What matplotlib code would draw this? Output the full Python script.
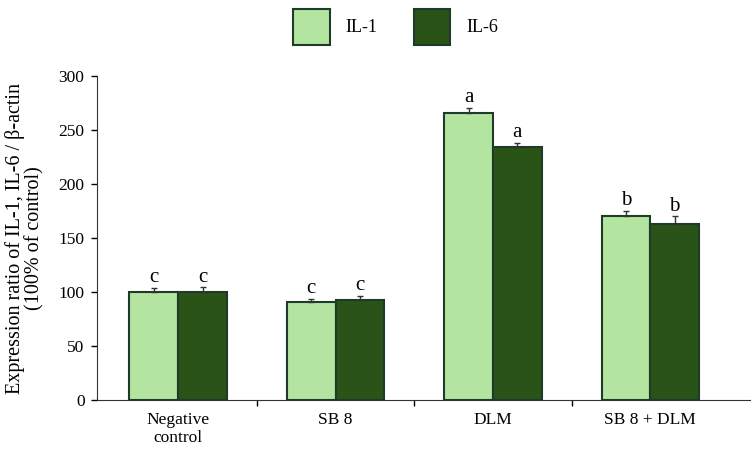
import numpy as np
import matplotlib.pyplot as plt
from matplotlib.ticker import FixedLocator

plt.rcParams['font.family'] = ['Liberation Serif', 'DejaVu Serif']

groups = ['Negative\ncontrol', 'SB 8', 'DLM', 'SB 8 + DLM']
il1 = [100, 91, 266, 170]
il6 = [100, 92.5, 234, 163]
il1_err = [4, 2.5, 4.5, 5]
il6_err = [4.5, 4, 4, 7]
il1_sig = ['c', 'c', 'a', 'b']
il6_sig = ['c', 'c', 'a', 'b']

light = '#b3e5a1'
dark = '#2a5318'
edge = '#1e3b2a'

fig = plt.figure(figsize=(7.51, 4.49), dpi=100)
ax = fig.add_axes([97/751, 49/449, 654/751, 324/449])

x = np.arange(len(groups))
w = 0.31
ekw = dict(ecolor='#333333', elinewidth=1, capsize=2.5, capthick=1)

# only the upper half of each error bar is shown
b1 = ax.bar(x - w/2, il1, w, color=light, edgecolor=edge, linewidth=1.5,
            label='IL-1', yerr=[np.zeros(4), il1_err], error_kw=ekw)
b2 = ax.bar(x + w/2, il6, w, color=dark, edgecolor=edge, linewidth=1.5,
            label='IL-6', yerr=[np.zeros(4), il6_err], error_kw=ekw)

for xi, v, e, s in zip(x - w/2, il1, il1_err, il1_sig):
    ax.text(xi, v + e + 0.5, s, ha='center', va='bottom', fontsize=15)
for xi, v, e, s in zip(x + w/2, il6, il6_err, il6_sig):
    ax.text(xi, v + e + 0.5, s, ha='center', va='bottom', fontsize=15)

ax.set_xlim(-0.516, 3.64)
ax.set_ylim(0, 300)
ax.set_yticks(np.arange(0, 301, 50))
ax.set_xticks(x)
ax.set_xticklabels(groups, fontsize=12.5, linespacing=1.1)
ax.tick_params(axis='x', length=0, pad=9)
ax.xaxis.set_minor_locator(FixedLocator([0.5, 1.5, 2.5]))
ax.tick_params(axis='x', which='minor', length=4, direction='out', width=1)
ax.tick_params(axis='y', length=4, direction='out', labelsize=12.5, width=1, pad=5)

ax.spines['top'].set_visible(False)
ax.spines['right'].set_visible(False)
ax.spines['left'].set_color('#333333')
ax.spines['bottom'].set_color('#333333')

ax.set_ylabel('Expression ratio of IL-1, IL-6 / β-actin\n(100% of control)',
              fontsize=14.5, linespacing=1.0, labelpad=10)

fig.legend(handles=[b1, b2], labels=['IL-1', 'IL-6'], loc='upper center',
           bbox_to_anchor=(0.527, 1.0), ncol=2, frameon=False, fontsize=13,
           handlelength=2.0, handleheight=2.7, columnspacing=2.0,
           handletextpad=0.9, borderaxespad=0.1)

fig.savefig('out.png', dpi=100)
